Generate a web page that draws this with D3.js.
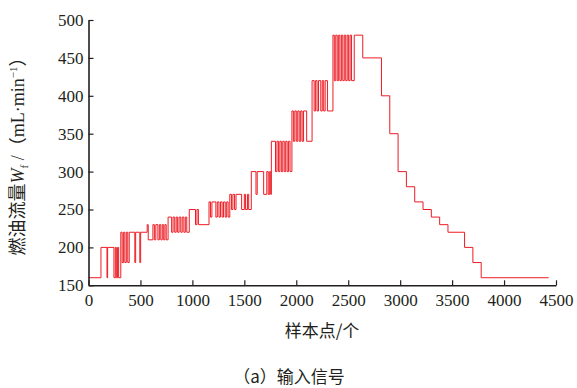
<!DOCTYPE html>
<html>
<head>
<meta charset="utf-8">
<script src="https://cdn.jsdelivr.net/npm/d3@7"></script>
<style>
  html, body { margin: 0; padding: 0; background: #fff; }
  svg { display: block; }
</style>
</head>
<body>
<svg id="chart" width="577" height="388"></svg>
<script>
// ---- data (sample index where the signal changes, and the new level) ----
const changeAt = [
  0, 120, 178, 184,
  245, 258, 268, 280, 290,
  311, 324, 338, 350, 364, 378, 392,
  446, 454, 494, 502,
  565, 575, 620, 634, 648, 668, 682, 696, 710, 724, 736, 748,
  766, 800, 814, 830, 844, 858, 872, 888, 902, 918, 932, 946,
  970, 1030, 1044, 1058,
  1160, 1174, 1188, 1226, 1240, 1256, 1270, 1286, 1300, 1316, 1330, 1344,
  1360, 1376, 1390, 1406, 1420, 1474, 1500, 1512, 1530, 1542,
  1567, 1612, 1624, 1686, 1716, 1730, 1744, 1754,
  1760, 1800, 1814, 1828, 1842, 1856, 1870, 1884, 1898, 1912, 1926, 1940,
  1958, 1972, 1986, 2000, 2014, 2028, 2042, 2056, 2070, 2100,
  2152, 2172, 2186, 2200, 2214, 2236, 2250, 2264, 2278, 2300,
  2353, 2366, 2380, 2394, 2408, 2420, 2434, 2448, 2462, 2476, 2490, 2504, 2518, 2532, 2546, 2558,
  2640, 2820, 2900, 2980, 3060, 3140, 3220, 3300, 3380, 3460, 3620, 3700, 3780, 4430
];
const flowLevel = [
  160, 200, 160, 200,
  160, 200, 160, 200, 160,
  220, 180, 220, 180, 220, 180, 220,
  180, 220, 180, 220,
  230, 210, 230, 210, 230, 210, 230, 210, 230, 210, 230, 210,
  240, 220, 240, 220, 240, 220, 240, 220, 240, 220, 240, 220,
  250, 230, 250, 230,
  260, 240, 260, 240, 260, 240, 260, 240, 260, 240, 260, 240,
  270, 250, 270, 250, 270, 250, 270, 250, 270, 250,
  300, 270, 300, 270, 300, 270, 300, 270,
  340, 300, 340, 300, 340, 300, 340, 300, 340, 300, 340, 300,
  380, 340, 380, 340, 380, 340, 380, 340, 380, 340,
  420, 380, 420, 380, 420, 380, 420, 380, 420, 380,
  480, 420, 480, 420, 480, 420, 480, 420, 480, 420, 480, 420, 480, 420, 420, 480,
  450, 400, 350, 300, 280, 260, 250, 240, 230, 220, 200, 180, 160, 160
];
const xTicks = [0, 500, 1000, 1500, 2000, 2500, 3000, 3500, 4000, 4500];
const yTicks = [150, 200, 250, 300, 350, 400, 450, 500];

// ---- chart ----
const svg = d3.select("#chart");
const x = d3.scaleLinear().domain([0, 4500]).range([88.5, 556]);
const y = d3.scaleLinear().domain([150, 500]).range([285.3, 20]);

const serif = "'Liberation Serif', 'Times New Roman', 'DejaVu Serif', serif";
const cjk = "'Noto Sans CJK SC', sans-serif";

const pts = changeAt.map((t, i) => [t, flowLevel[i]]);
const line = d3.line().x(d => x(d[0])).y(d => y(d[1])).curve(d3.curveStepAfter);

svg.append("path")
  .datum(pts)
  .attr("d", line)
  .attr("fill", "none")
  .attr("stroke", "#ec1c24")
  .attr("stroke-width", 1);

const gx = svg.append("g")
  .attr("transform", `translate(0,${y(150)})`)
  .call(d3.axisBottom(x).tickValues(xTicks).tickFormat(d3.format("d"))
        .tickSizeInner(-5).tickSizeOuter(0).tickPadding(9));
const gy = svg.append("g")
  .attr("transform", `translate(${x(0)},0)`)
  .call(d3.axisLeft(y).tickValues(yTicks).tickFormat(d3.format("d"))
        .tickSizeInner(-5).tickSizeOuter(0).tickPadding(5));

[gx, gy].forEach(g => {
  g.attr("font-family", serif).attr("font-size", 17);
  g.select(".domain").attr("stroke", "#231f20").attr("stroke-width", 1.6);
  g.selectAll(".tick line").attr("stroke", "#231f20").attr("stroke-width", 1.2);
  g.selectAll(".tick text").attr("fill", "#231f20")
    .style("font-family", serif).style("font-size", "17px");
});

// x title
svg.append("text")
  .attr("x", 322).attr("y", 337)
  .attr("text-anchor", "middle")
  .style("font-family", cjk).style("font-size", "17px")
  .attr("fill", "#231f20")
  .text("样本点/个");

// caption
svg.append("text")
  .attr("x", 289).attr("y", 383)
  .attr("text-anchor", "middle")
  .style("font-family", cjk).style("font-size", "17px")
  .attr("fill", "#231f20")
  .text("（a）输入信号");

// y title
const yt = svg.append("text")
  .attr("transform", "translate(24,152) rotate(-90)")
  .attr("text-anchor", "middle")
  .attr("fill", "#231f20")
  .style("font-size", "18px");
yt.append("tspan").style("font-family", cjk).text("燃油流量");
yt.append("tspan").style("font-family", serif).style("font-style", "italic").text("W");
yt.append("tspan").style("font-family", serif).style("font-size", "11px").attr("dy", 4).text("f");
yt.append("tspan").style("font-family", serif).attr("dy", -4).text(" /");
yt.append("tspan").style("font-family", cjk).text("（");
yt.append("tspan").style("font-family", serif).text("mL·min");
yt.append("tspan").style("font-family", serif).style("font-size", "11px").attr("dy", -7).text("−1");
yt.append("tspan").style("font-family", cjk).attr("dy", 7).text("）");
</script>
</body>
</html>
